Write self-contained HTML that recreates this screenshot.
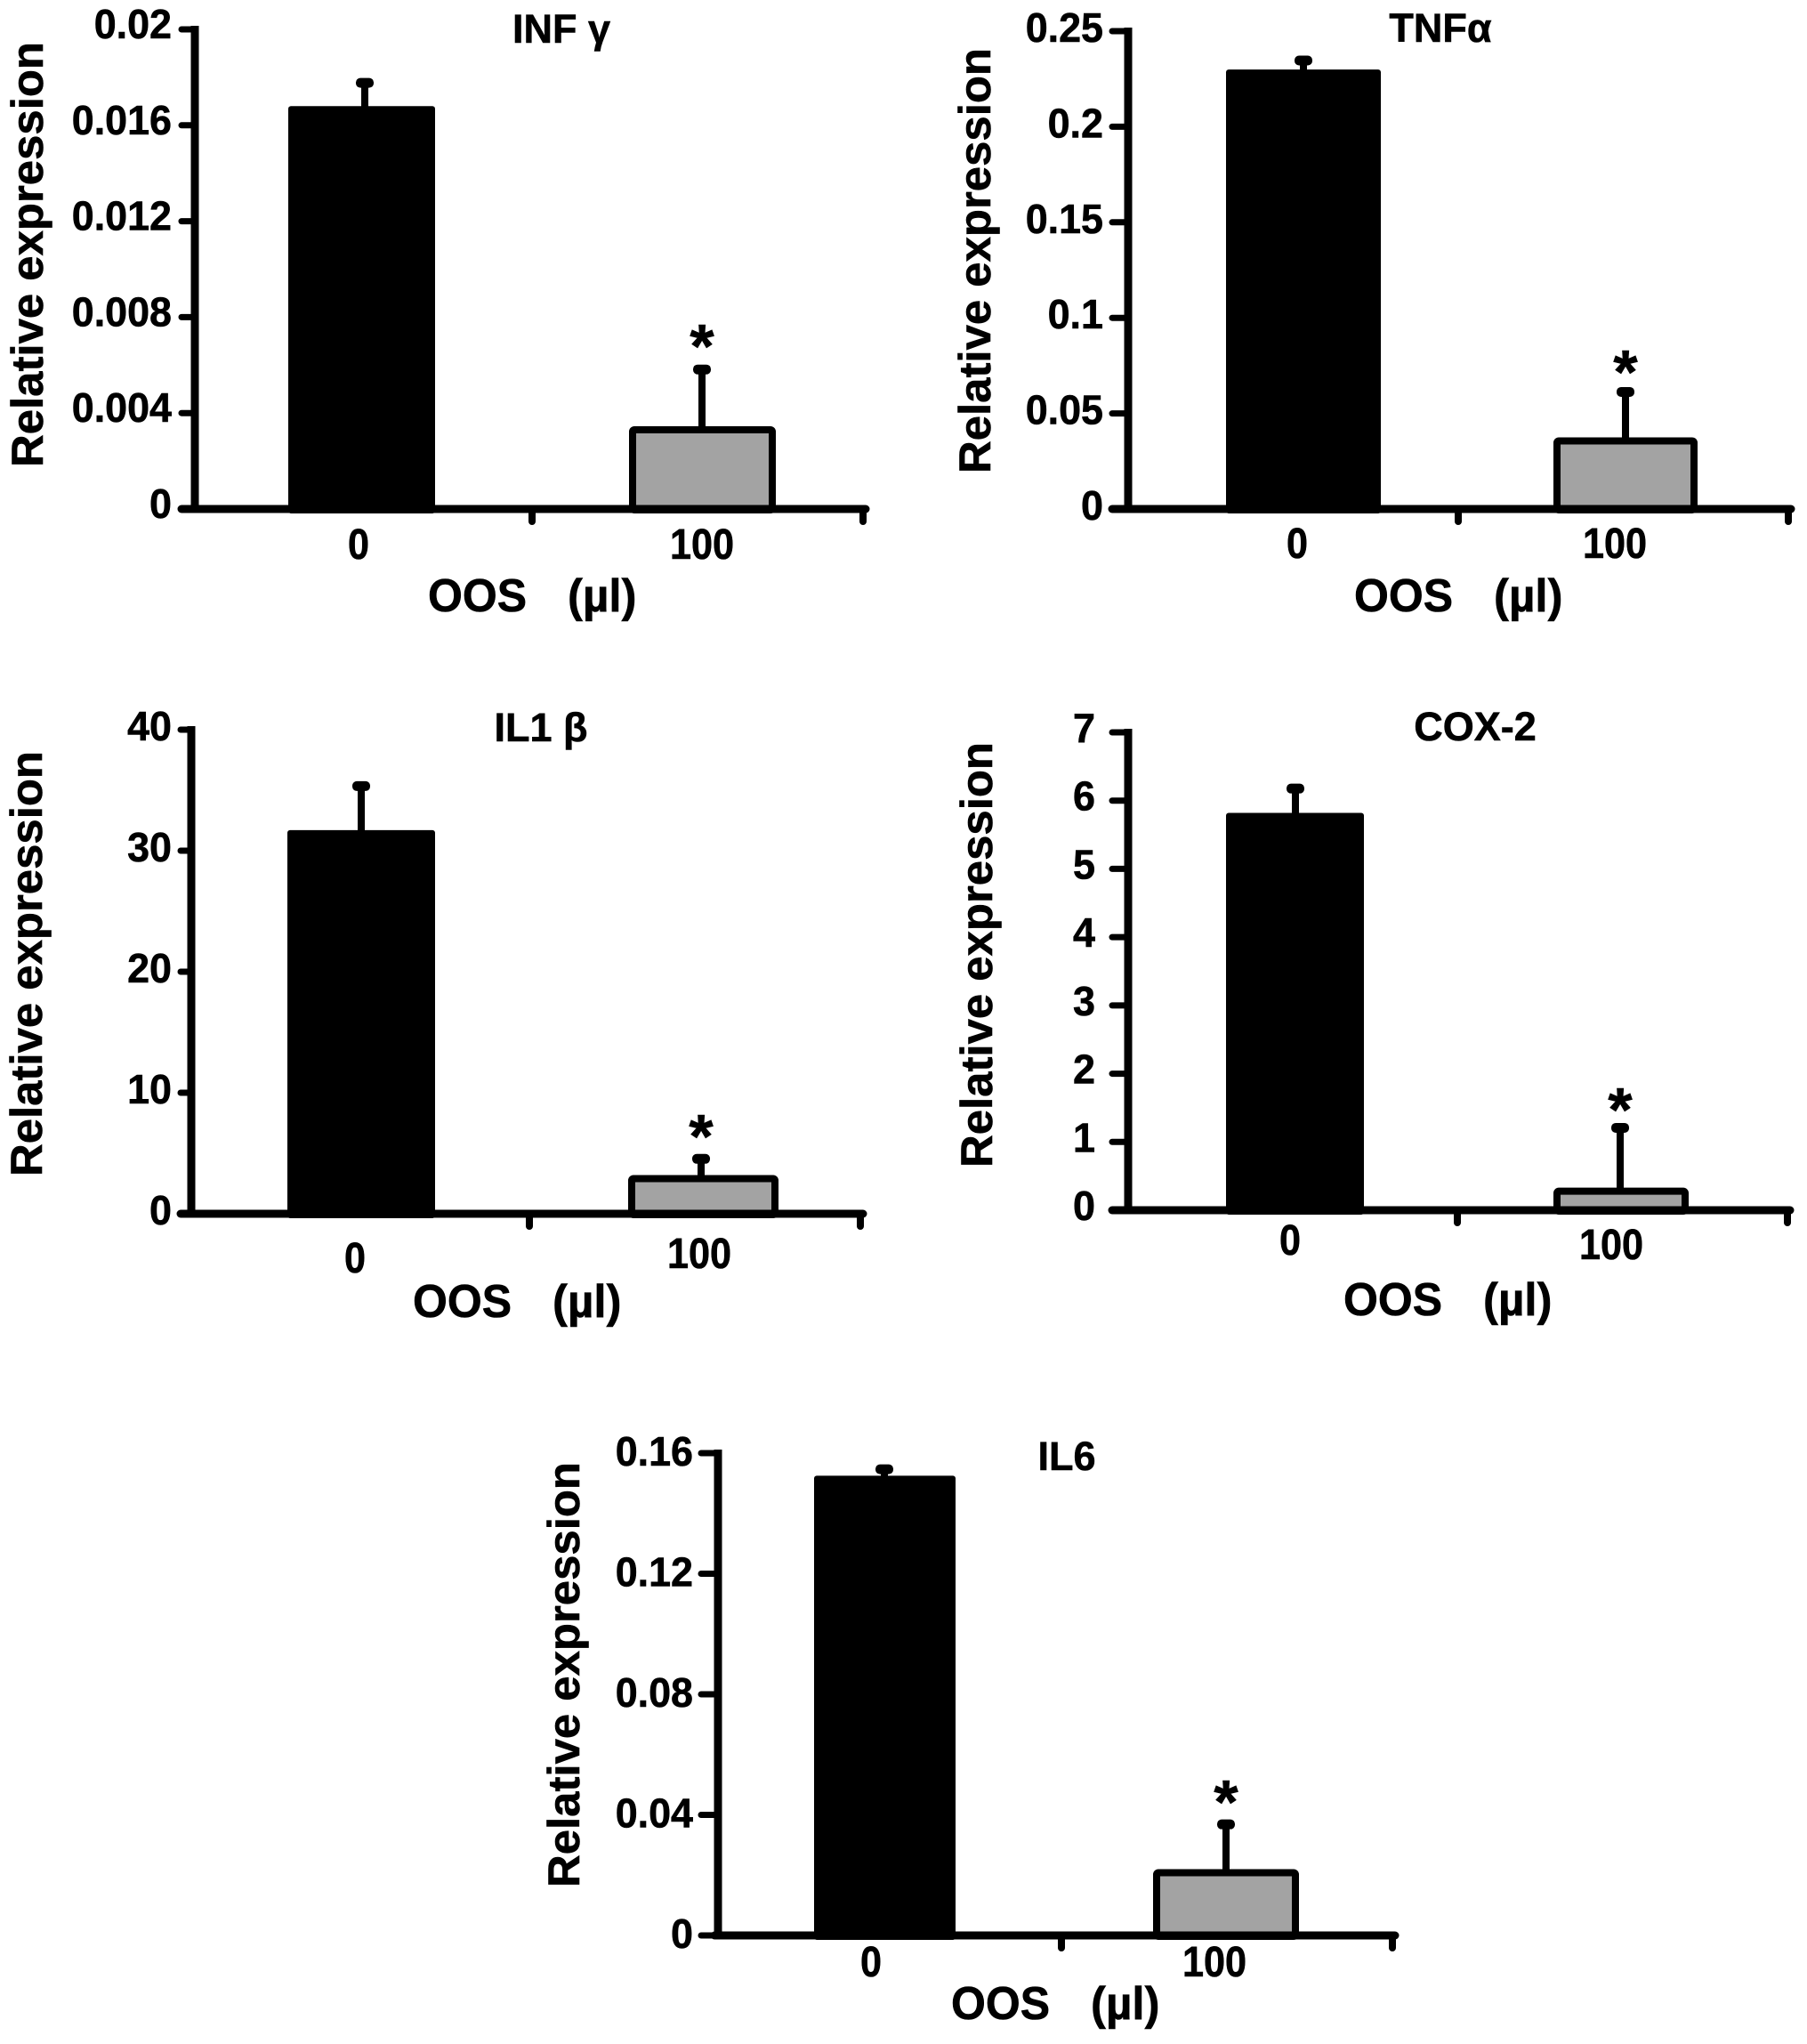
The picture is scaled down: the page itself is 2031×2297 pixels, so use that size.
<!DOCTYPE html>
<html lang="en">
<head>
<meta charset="utf-8">
<title>Relative expression after OOS treatment</title>
<style>
  html, body { margin: 0; padding: 0; background: #fff; }
  svg { display: block; }
  text { font-family: "Liberation Sans", "DejaVu Sans", sans-serif; font-weight: bold; fill: #000; stroke: #000; stroke-width: 0.6px; }
</style>
</head>
<body>
<svg id="figure" xmlns="http://www.w3.org/2000/svg" width="2031" height="2297" viewBox="0 0 2031 2297"></svg>
<script>
const categories = ['0', '100'];

const infValues = [0.0168, 0.00345];
const infErrors = [0.00095, 0.00235];
const infTicks = ['0', '0.004', '0.008', '0.012', '0.016', '0.02'];

const tnfValues = [0.2299, 0.0375];
const tnfErrors = [0.0045, 0.0235];
const tnfTicks = ['0', '0.05', '0.1', '0.15', '0.2', '0.25'];

const il1Values = [31.7, 3.2];
const il1Errors = [3.6, 1.3];
const il1Ticks = ['0', '10', '20', '30', '40'];

const coxValues = [5.82, 0.33];
const coxErrors = [0.35, 0.87];
const coxTicks = ['0', '1', '2', '3', '4', '5', '6', '7'];

const il6Values = [0.1525, 0.022];
const il6Errors = [0.002, 0.0147];
const il6Ticks = ['0', '0.04', '0.08', '0.12', '0.16'];

const panels = [
  { id: 'inf-gamma', title: 'INF γ', values: infValues, errors: infErrors, ticks: infTicks,
    axisX: 219, top: 33, zero: 572, left: 204, axisStart: 204, right: 973, midTick: 598,
    bars: [[324, 489], [707, 872]], errX: [410, 789], tickEnd: 193, labelDy: 10,
    catX: [403, 789], catY: [628, 628], oos: [481, 687], unit: [638, 687],
    yTitle: [48, 286], titleX: 631, titleY: 48, starY: 413 },
  { id: 'tnf-alpha', title: 'TNFα', values: tnfValues, errors: tnfErrors, ticks: tnfTicks,
    axisX: 1268, top: 35, zero: 572, left: 1250, axisStart: 1250, right: 2013, midTick: 1639,
    bars: [[1378, 1552], [1746, 1908]], errX: [1465, 1827], tickEnd: 1240, labelDy: 12,
    catX: [1458, 1815], catY: [627, 627], oos: [1522, 687], unit: [1679, 687],
    yTitle: [1113, 293], titleX: 1619, titleY: 47, starY: 442 },
  { id: 'il1-beta', title: 'IL1 β', values: il1Values, errors: il1Errors, ticks: il1Ticks,
    axisX: 215, top: 820, zero: 1364, left: 203, axisStart: 203, right: 970, midTick: 595,
    bars: [[323, 489], [706, 875]], errX: [406, 788], tickEnd: 193, labelDy: 12,
    catX: [399, 786], catY: [1430, 1425], oos: [464, 1480], unit: [621, 1480],
    yTitle: [47, 1083], titleX: 608, titleY: 833, starY: 1301 },
  { id: 'cox-2', title: 'COX-2', values: coxValues, errors: coxErrors, ticks: coxTicks,
    axisX: 1268, top: 823, zero: 1360, left: 1250, axisStart: 1250, right: 2012, midTick: 1638,
    bars: [[1378, 1533], [1746, 1898]], errX: [1456, 1821], tickEnd: 1231, labelDy: 11,
    catX: [1450, 1811], catY: [1410, 1415], oos: [1510, 1478], unit: [1667, 1478],
    yTitle: [1115, 1073], titleX: 1658, titleY: 832, starY: 1271 },
  { id: 'il6', title: 'IL6', values: il6Values, errors: il6Errors, ticks: il6Ticks,
    axisX: 807, top: 1633, zero: 2175, left: 788, axisStart: 803, right: 1568, midTick: 1193,
    bars: [[915, 1074], [1296, 1460]], errX: [994, 1378], tickEnd: 779, labelDy: 14,
    catX: [979, 1365], catY: [2221, 2221], oos: [1069, 2269], unit: [1226, 2269],
    yTitle: [651, 1882], titleX: 1199, titleY: 1652, starY: 2049 }
];

const SVG_NS = 'http://www.w3.org/2000/svg';
const figure = document.getElementById('figure');

function make(tag, attrs, parent) {
  const node = document.createElementNS(SVG_NS, tag);
  Object.keys(attrs).forEach(function (key) { node.setAttribute(key, attrs[key]); });
  parent.appendChild(node);
  return node;
}

function squeeze(node, ratio) {
  node.setAttribute('textLength', (node.getComputedTextLength() * ratio).toFixed(1));
  node.setAttribute('lengthAdjust', 'spacingAndGlyphs');
}

function makeYScale(panel) {
  const maxTick = Number(panel.ticks[panel.ticks.length - 1]);
  return function (value) {
    return panel.zero - (value / maxTick) * (panel.zero - panel.top);
  };
}

panels.forEach(function (panel) {
  const y = makeYScale(panel);

  const group = make('g', {}, figure);
  
  

  panel.values.forEach(function (value, i) {
    const errTop = y(value + panel.errors[i]);
    const errLine = make('line', { x1: panel.errX[i], x2: panel.errX[i], y1: errTop, y2: y(value) + 4, stroke: '#000', 'stroke-width': 8 }, group);
    
    

    const errCap = make('rect', { x: panel.errX[i] - 10, y: errTop - 6, width: 20, height: 11, rx: 5, fill: '#000' }, group);
    
    

    const x0 = panel.bars[i][0];
    const x1 = panel.bars[i][1];
    const bar = make('rect', i === 0
      ? { x: x0, y: y(value), width: x1 - x0, height: panel.zero + 5 - y(value), rx: 3, fill: '#000' }
      : { x: x0 + 4, y: y(value) + 4, width: x1 - x0 - 8, height: panel.zero - 3 - y(value), rx: 2, fill: '#a3a3a3', stroke: '#000', 'stroke-width': 8 }, group);
    
    

    const catLabel = make('text', { x: panel.catX[i], y: panel.catY[i], 'font-size': 48, 'text-anchor': 'middle' }, group);
    catLabel.textContent = categories[i];
    
    
    squeeze(catLabel, 0.9);
  });

  const yAxis = make('line', { x1: panel.axisX, x2: panel.axisX, y1: panel.top - 4, y2: panel.zero, stroke: '#000', 'stroke-width': 9 }, group);
  
  

  const xAxis = make('line', { x1: panel.axisStart, x2: panel.right, y1: panel.zero, y2: panel.zero, stroke: '#000', 'stroke-width': 9, 'stroke-linecap': 'round' }, group);
  
  

  [panel.midTick, panel.right - 3].forEach(function (tx) {
    const xTick = make('line', { x1: tx, x2: tx, y1: panel.zero, y2: panel.zero + 14, stroke: '#000', 'stroke-width': 8, 'stroke-linecap': 'round' }, group);
    
    
  });

  panel.ticks.forEach(function (label) {
    const ty = y(Number(label));
    const tick = make('line', { x1: panel.left, x2: panel.axisX, y1: ty, y2: ty, stroke: '#000', 'stroke-width': 7, 'stroke-linecap': 'round' }, group);
    
    

    const tickText = make('text', { x: panel.tickEnd, y: ty + panel.labelDy, 'font-size': 46, 'text-anchor': 'end' }, group);
    tickText.textContent = label;
    
    
    squeeze(tickText, 0.975);
  });

  const yTitle = make('text', { 'font-size': 50, 'text-anchor': 'middle', transform: 'translate(' + panel.yTitle[0] + ' ' + panel.yTitle[1] + ') rotate(-90)' }, group);
  yTitle.textContent = 'Relative expression';
  
  
  yTitle.setAttribute('textLength', '478');
  yTitle.setAttribute('lengthAdjust', 'spacingAndGlyphs');

  const title = make('text', { x: panel.titleX, y: panel.titleY, 'font-size': 45, 'text-anchor': 'middle' }, group);
  title.textContent = panel.title;
  
  

  const oos = make('text', { x: panel.oos[0], y: panel.oos[1], 'font-size': 52 }, group);
  oos.textContent = 'OOS';
  
  
  squeeze(oos, 0.96);

  const unit = make('text', { x: panel.unit[0], y: panel.unit[1], 'font-size': 52 }, group);
  unit.textContent = '(µl)';
  
  
  squeeze(unit, 0.98);

  const star = make('text', { x: panel.errX[1], y: panel.starY, 'font-size': 70, 'text-anchor': 'middle' }, group);
  star.textContent = '*';
  
  
});
</script>
</body>
</html>
